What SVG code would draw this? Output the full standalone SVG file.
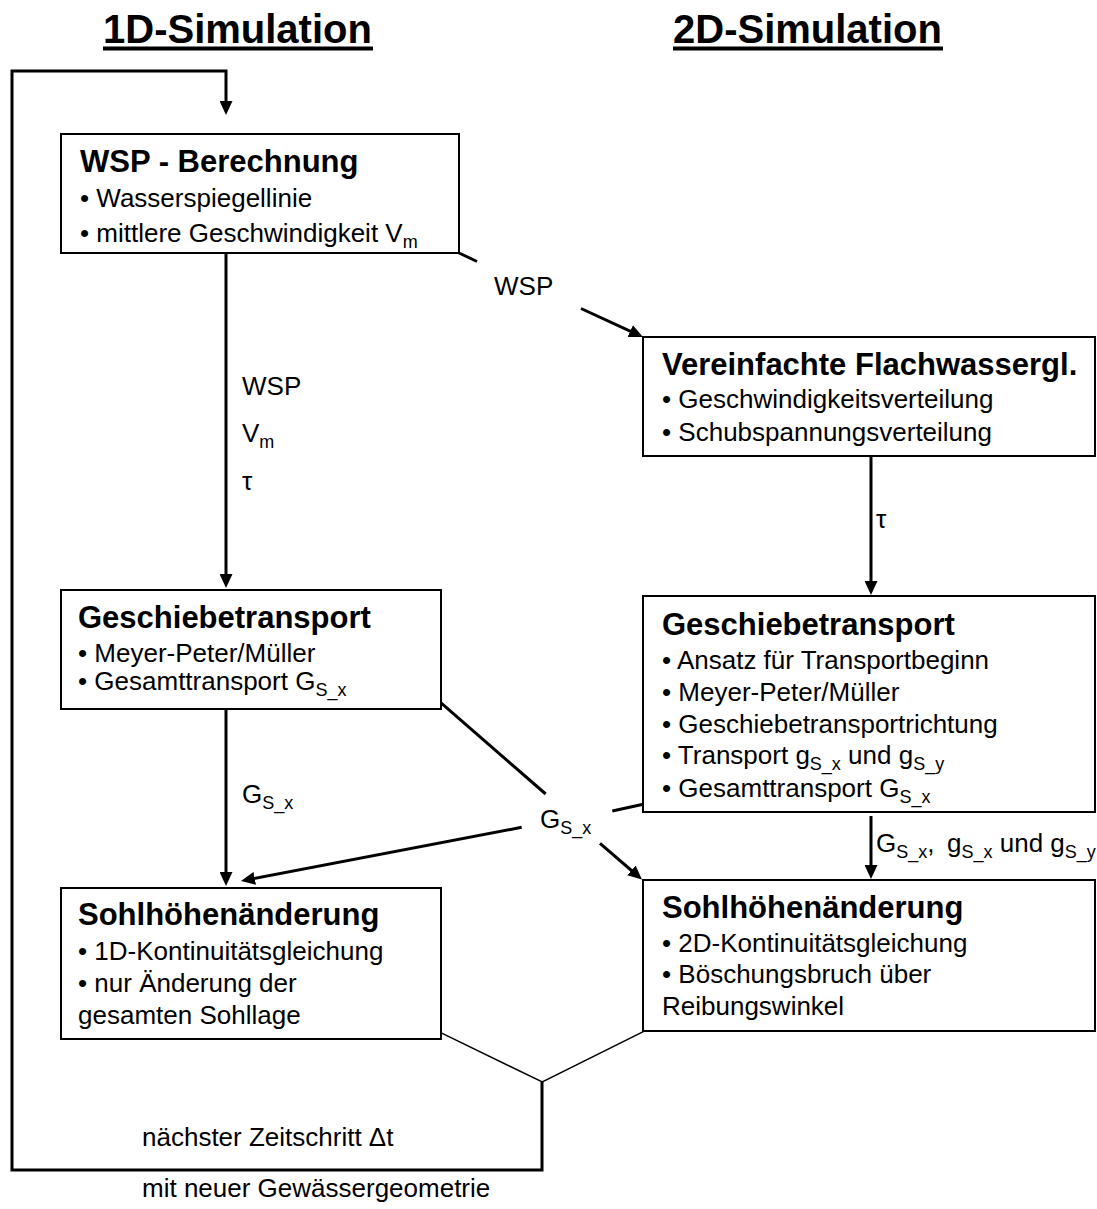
<svg xmlns="http://www.w3.org/2000/svg" width="1097" height="1209" viewBox="0 0 1097 1209">
<style>
text{font-family:"Liberation Sans",Arial,sans-serif;fill:#000}
.h{font-size:40px;font-weight:bold}
.t{font-size:31px;font-weight:bold}
.b{font-size:26px}
.s{font-size:18px}
.box{fill:#fff;stroke:#000;stroke-width:2}
.c{fill:none;stroke:#000;stroke-width:3}
.thin{fill:none;stroke:#000;stroke-width:1.5}
</style>
<defs>
<marker id="ah" viewBox="0 0 14 13" refX="4" refY="6.5" markerWidth="14" markerHeight="13" markerUnits="userSpaceOnUse" orient="auto">
<path d="M0,0 L14,6.5 L0,13 z" fill="#000"/>
</marker>
</defs>
<g id="headers">
<text class="h" x="103" y="43">1D-Simulation</text>
<rect x="103" y="46.5" width="270" height="4" fill="#000"/>
<text class="h" x="673" y="43">2D-Simulation</text>
<rect x="673" y="46.5" width="270" height="4" fill="#000"/>
</g>
<g id="connectors">
<path class="c" d="M542,1082 L542,1170 L12,1170 L12,71 L226,71 L226,105" marker-end="url(#ah)"/>
<line class="c" x1="226" y1="253" x2="226" y2="578" marker-end="url(#ah)"/>
<line class="c" x1="226" y1="709" x2="226" y2="876" marker-end="url(#ah)"/>
<line class="c" x1="871" y1="456" x2="871" y2="585" marker-end="url(#ah)"/>
<line class="c" x1="871" y1="816" x2="871" y2="869" marker-end="url(#ah)"/>
<line class="c" x1="459" y1="253" x2="477" y2="261.5"/>
<line class="c" x1="581" y1="308.5" x2="633.9" y2="332.8" marker-end="url(#ah)"/>
<line class="c" x1="440.7" y1="702.7" x2="545.7" y2="794"/>
<line class="c" x1="612.3" y1="811" x2="643.3" y2="804.3"/>
<line class="c" x1="521.7" y1="827.3" x2="250.8" y2="879.1" marker-end="url(#ah)"/>
<line class="c" x1="600" y1="843.3" x2="634.4" y2="873" marker-end="url(#ah)"/>
<polyline class="thin" points="440.7,1032.7 542.3,1082 643.3,1031.7"/>
<text class="b" x="494" y="295">WSP</text>
<text class="b" x="242" y="395">WSP</text>
<text class="b" x="242" y="442">V<tspan class="s" dy="6">m</tspan></text>
<text class="b" x="242" y="490">τ</text>
<text class="b" x="876" y="528">τ</text>
<text class="b" x="242" y="803">G<tspan class="s" dy="6">S_x</tspan></text>
<text class="b" x="540" y="828">G<tspan class="s" dy="6">S_x</tspan></text>
<text class="b" x="876" y="852">G<tspan class="s" dy="6">S_x</tspan><tspan dy="-6">,</tspan><tspan x="947">g</tspan><tspan class="s" dy="6">S_x</tspan><tspan dy="-6"> und g</tspan><tspan class="s" dy="6">S_y</tspan></text>
<text class="b" x="142" y="1146">nächster Zeitschritt Δt</text>
<text class="b" x="142" y="1197">mit neuer Gewässergeometrie</text>
</g>
<g id="wsp">
<rect class="box" x="61" y="134" width="398" height="119"/>
<text class="t" x="80" y="172">WSP - Berechnung</text>
<text class="b" x="80" y="207">• Wasserspiegellinie</text>
<text class="b" x="80" y="242">• mittlere Geschwindigkeit V<tspan class="s" dy="6">m</tspan></text>
</g>
<g id="flachwasser">
<rect class="box" x="643" y="337" width="452" height="119"/>
<text class="t" x="662" y="375">Vereinfachte Flachwassergl.</text>
<text class="b" x="662" y="408">• Geschwindigkeitsverteilung</text>
<text class="b" x="662" y="441">• Schubspannungsverteilung</text>
</g>
<g id="geschiebe1d">
<rect class="box" x="61" y="590" width="380" height="119"/>
<text class="t" x="78" y="628">Geschiebetransport</text>
<text class="b" x="78" y="662">• Meyer-Peter/Müller</text>
<text class="b" x="78" y="690">• Gesamttransport G<tspan class="s" dy="6">S_x</tspan></text>
</g>
<g id="geschiebe2d">
<rect class="box" x="643" y="596" width="452" height="216"/>
<text class="t" x="662" y="635">Geschiebetransport</text>
<text class="b" x="662" y="669">• Ansatz für Transportbeginn</text>
<text class="b" x="662" y="701">• Meyer-Peter/Müller</text>
<text class="b" x="662" y="733">• Geschiebetransportrichtung</text>
<text class="b" x="662" y="764">• Transport g<tspan class="s" dy="6">S_x</tspan><tspan dy="-6"> und g</tspan><tspan class="s" dy="6">S_y</tspan></text>
<text class="b" x="662" y="797">• Gesamttransport G<tspan class="s" dy="6">S_x</tspan></text>
</g>
<g id="sohl1d">
<rect class="box" x="61" y="888" width="380" height="151"/>
<text class="t" x="78" y="925">Sohlhöhenänderung</text>
<text class="b" x="78" y="960">• 1D-Kontinuitätsgleichung</text>
<text class="b" x="78" y="992">• nur Änderung der</text>
<text class="b" x="78" y="1024">gesamten Sohllage</text>
</g>
<g id="sohl2d">
<rect class="box" x="643" y="880" width="452" height="151"/>
<text class="t" x="662" y="918">Sohlhöhenänderung</text>
<text class="b" x="662" y="952">• 2D-Kontinuitätsgleichung</text>
<text class="b" x="662" y="983">• Böschungsbruch über</text>
<text class="b" x="662" y="1015">Reibungswinkel</text>
</g>
</svg>
